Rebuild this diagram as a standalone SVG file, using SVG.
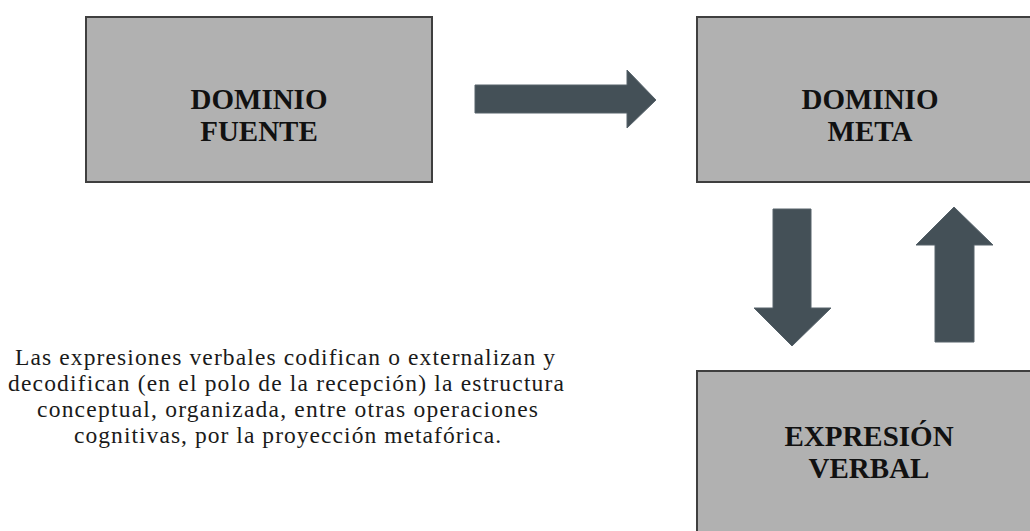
<svg xmlns="http://www.w3.org/2000/svg" width="1030" height="531" viewBox="0 0 1030 531">
<style>
.box{fill:#b1b1b1;stroke:#3f3f3f;stroke-width:2}
.lbl{font-family:"Liberation Serif",serif;font-weight:bold;font-size:29px;fill:#111;text-anchor:middle}
.arr{fill:#445057;stroke:#56626a;stroke-width:1}
.para{font-family:"Liberation Serif",serif;font-size:23.5px;fill:#1a1a1a;text-anchor:middle}
</style>
<rect width="1030" height="531" fill="#ffffff"/>
<g id="dominio-fuente">
<rect class="box" x="86" y="17" width="346" height="165"/>
<text class="lbl" x="259" y="109">DOMINIO</text>
<text class="lbl" x="259" y="141">FUENTE</text>
</g>
<g id="dominio-meta">
<rect class="box" x="697" y="17" width="346" height="165"/>
<text class="lbl" x="870" y="109">DOMINIO</text>
<text class="lbl" x="870" y="141">META</text>
</g>
<g id="expresion-verbal">
<rect class="box" x="697" y="371" width="346" height="170"/>
<text class="lbl" x="869" y="446">EXPRESIÓN</text>
<text class="lbl" x="869" y="478">VERBAL</text>
</g>
<g id="connectors">
<polygon class="arr" points="475,85 627,85 627,70 656,100 627,128 627,113 475,113"/>
<polygon class="arr" points="773,209 811,209 811,308 831,308 792,346 754,308 773,308"/>
<polygon class="arr" points="935,342 974,342 974,245 993,245 954,207 916,245 935,245"/>
</g>
<g id="caption">
<text class="para" x="285" y="365" textLength="540" lengthAdjust="spacing">Las expresiones verbales codifican o externalizan y</text>
<text class="para" x="286" y="391" textLength="556" lengthAdjust="spacing">decodifican (en el polo de la recepción) la estructura</text>
<text class="para" x="287.5" y="417" textLength="501" lengthAdjust="spacing">conceptual, organizada, entre otras operaciones</text>
<text class="para" x="287.5" y="443" textLength="427" lengthAdjust="spacing">cognitivas,  por la proyección metafórica.</text>
</g>
</svg>
